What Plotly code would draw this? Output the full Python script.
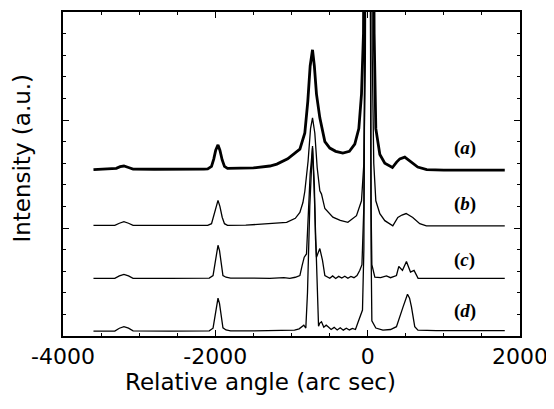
import plotly.graph_objects as go

# ---- data (x in arc sec, y in arbitrary intensity units) ----
a_x = [-3600, -3400, -3300, -3250, -3200, -3140, -3080, -2800, -2500, -2150, -2100, -2050, -2020, -1995,
       -1965, -1940, -1910, -1880, -1840, -1700, -1500, -1284, -1192, -1050, -890, -825, -786, -755,
       -724, -700, -672, -628, -562, -497, -420, -326, -240, -169, -116, -81, -55, 15, 85, 107, 160,
       225, 325, 380, 422, 487, 552, 600, 657, 775, 1000, 1400, 1800]
a_y = [7.70, 7.72, 7.76, 7.84, 7.87, 7.80, 7.73, 7.72, 7.71, 7.73, 7.74, 7.85, 8.20, 8.60,
       8.85, 8.60, 8.15, 7.85, 7.76, 7.76, 7.78, 7.87, 7.96, 8.20, 8.65, 9.40, 10.86, 12.50,
       13.25, 12.50, 11.20, 10.10, 9.00, 8.70, 8.55, 8.47, 8.55, 8.88, 9.60, 11.20, 14.0, 60.0, 14.0, 9.60, 8.40,
       8.00, 7.80, 8.05, 8.20, 8.28, 8.10, 7.95, 7.82, 7.70, 7.68, 7.68, 7.68]

b_x = [-3600, -3320, -3260, -3200, -3140, -3080, -2600, -2100, -2050, -2020, -1995, -1965, -1940,
       -1910, -1880, -1840, -1600, -1284, -1064, -950, -890, -850, -825, -782, -750, -724, -694,
       -663, -628, -606, -562, -457, -360, -260, -147, -81, -50, -30, 15, 60, 80, 107, 160, 225,
       330, 396, 450, 505, 592, 684, 771, 1200, 1800]
b_y = [5.12, 5.12, 5.22, 5.29, 5.22, 5.12, 5.12, 5.12, 5.20, 5.60, 6.00, 6.28, 6.00,
       5.50, 5.20, 5.12, 5.13, 5.20, 5.26, 5.45, 5.72, 6.18, 6.70, 8.10, 9.60, 10.10, 9.40,
       7.80, 6.72, 6.57, 5.90, 5.50, 5.35, 5.26, 5.57, 6.26, 8.0, 13.0, 60.0, 13.0, 8.0, 6.26, 5.66, 5.34,
       5.10, 5.49, 5.60, 5.67, 5.49, 5.20, 5.10, 5.10, 5.10]

c_x = [-3600, -3320, -3260, -3200, -3140, -3080, -2600, -2080, -2030, -2005, -1985, -1965, -1945,
       -1925, -1900, -1860, -1800, -1500, -1284, -1100, -1022, -950, -890, -860, -833, -803, -785,
       -755, -724, -700, -685, -672, -650, -628, -593, -562, -497, -460, -420, -380, -340, -300,
       -260, -220, -180, -140, -103, -75, -50, 10, 45, 55, 94, 170, 247, 300, 378, 409, 457, 509, 562,
       609, 662, 800, 1200, 1800]
c_y = [2.67, 2.67, 2.78, 2.85, 2.78, 2.67, 2.67, 2.68, 2.80, 3.40, 3.95, 4.20, 3.95,
       3.30, 2.80, 2.72, 2.68, 2.68, 2.67, 2.70, 2.67, 2.72, 2.80, 3.27, 3.65, 3.80, 5.20,
       7.50, 8.70, 7.00, 4.50, 3.65, 3.85, 4.05, 3.50, 2.80, 2.67, 2.78, 2.66, 2.76, 2.68, 2.77,
       2.67, 2.76, 2.70, 2.80, 3.04, 3.30, 6.0, 50.0, 6.0, 3.30, 2.72, 2.70, 2.78, 2.70, 2.80, 3.22, 3.04, 3.45, 2.96,
       3.04, 2.67, 2.67, 2.67, 2.67]

d_x = [-3600, -3320, -3260, -3200, -3140, -3080, -2600, -2080, -2030, -2005, -1985, -1965, -1945,
       -1925, -1900, -1860, -1800, -1500, -1284, -1100, -960, -900, -869, -838, -812, -790, -760,
       -724, -695, -665, -645, -628, -606, -576, -545, -519, -480, -440, -400, -360, -320, -280,
       -240, -200, -160, -130, -68, -50, 10, 45, 55, 107, 200, 300, 378, 465, 500, 523, 550, 575, 618,
       660, 900, 1300, 1800]
d_y = [0.23, 0.23, 0.36, 0.43, 0.36, 0.24, 0.23, 0.24, 0.36, 0.95, 1.50, 1.75, 1.50,
       0.90, 0.38, 0.28, 0.24, 0.24, 0.24, 0.26, 0.27, 0.33, 0.43, 0.50, 0.37, 2.00, 6.00,
       8.80, 6.00, 2.00, 0.45, 0.60, 0.66, 0.41, 0.50, 0.43, 0.30, 0.40, 0.28, 0.38, 0.27, 0.36,
       0.28, 0.35, 0.30, 0.60, 1.20, 4.0, 50.0, 4.0, 0.70, 0.37, 0.27, 0.30, 0.43, 1.35, 1.75, 1.93, 1.75, 1.35, 0.43,
       0.27, 0.25, 0.25, 0.25]

labels = ["(<i>a</i>)", "(<i>b</i>)", "(<i>c</i>)", "(<i>d</i>)"]
label_x = [1274, 1274, 1274, 1274]
label_y = [8.70, 6.12, 3.54, 1.15]

x_ticks = [-4000, -2000, 0, 2000]
x_ticktext = ["-4000", "-2000", "0", "2000"]

fig = go.Figure()
for xs, ys, w in [(a_x, a_y, 2.8), (b_x, b_y, 1.3), (c_x, c_y, 1.3), (d_x, d_y, 1.3)]:
    fig.add_trace(go.Scatter(x=xs, y=ys, mode="lines", line=dict(color="black", width=w),
                             showlegend=False, hoverinfo="skip"))

for t, lx, ly in zip(labels, label_x, label_y):
    fig.add_annotation(x=lx, y=ly, text="<b>" + t + "</b>", showarrow=False,
                       font=dict(family="Liberation Serif", size=19, color="black"),
                       xanchor="center", yanchor="middle")

# axis titles
fig.add_annotation(text="Relative angle (arc sec)", xref="paper", yref="paper",
                   x=0.433, y=0, yshift=-46, xanchor="center", yanchor="middle", showarrow=False,
                   font=dict(family="DejaVu Sans", size=23, color="black"))
fig.add_annotation(text="Intensity (a.u.)", xref="paper", yref="paper",
                   x=0, y=0.5475, xshift=-41, xanchor="center", yanchor="middle", textangle=-90,
                   showarrow=False, font=dict(family="DejaVu Sans", size=23, color="black"))

# page body has an 8px margin, so the figure is sized/offset to land the plot box where the reference has it
fig.update_layout(
    width=546, height=401,
    margin=dict(l=55, r=34, t=2, b=73),
    paper_bgcolor="white", plot_bgcolor="white",
    font=dict(family="DejaVu Sans", color="black"),
)
fig.update_xaxes(range=[-4000, 2000], tickmode="array", tickvals=x_ticks, ticktext=x_ticktext,
                 ticks="inside", ticklen=6, tickwidth=1.3, tickcolor="black",
                 minor=dict(dtick=500, ticks="inside", ticklen=3, tickwidth=1, tickcolor="black"),
                 showline=True, linecolor="black", linewidth=1.5, mirror="ticks",
                 showgrid=False, zeroline=False,
                 tickfont=dict(family="DejaVu Sans", size=22, color="black"))
fig.update_yaxes(range=[0, 15], tickmode="linear", tick0=0, dtick=5, showticklabels=False,
                 ticks="inside", ticklen=6, tickwidth=1.3, tickcolor="black",
                 minor=dict(dtick=1, ticks="inside", ticklen=3, tickwidth=1, tickcolor="black"),
                 showline=True, linecolor="black", linewidth=1.5, mirror="ticks",
                 showgrid=False, zeroline=False)

fig.write_html("out.html")
